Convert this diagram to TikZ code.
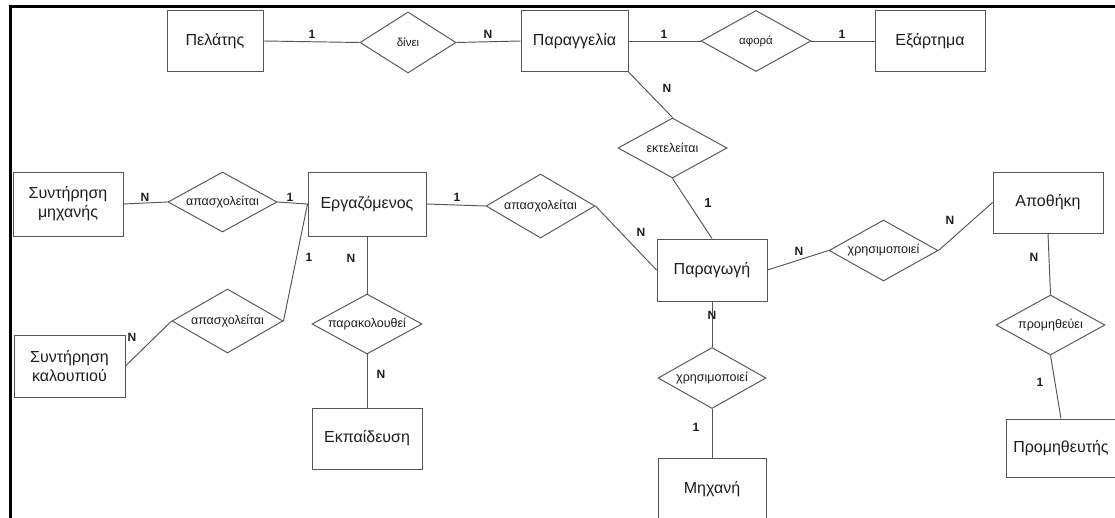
\documentclass[tikz,border=0pt]{standalone}
\usepackage{fontspec}
\setmainfont{Liberation Sans}
\usetikzlibrary{shapes.geometric}
\definecolor{edge}{HTML}{555555}
\definecolor{ink}{HTML}{1E1E1E}
\tikzset{
  entity/.style={draw=edge, line width=0.95pt, rectangle, inner sep=0pt, text=ink,
    font=\fontsize{16}{19}\selectfont, align=center},
  relation/.style={draw=edge, line width=0.95pt, diamond, shape aspect=1.8, inner sep=0pt,
    text=ink, font=\fontsize{12.5}{14}\selectfont},
  link/.style={draw=edge, line width=0.95pt},
  card/.style={font=\bfseries\fontsize{12}{14}\selectfont, text=ink, inner sep=0pt},
  frame/.style={line width=3pt, black, line join=miter},
}
\begin{document}
\begin{tikzpicture}[x=1pt,y=-1pt]
\clip (0,0) rectangle (1115,518);
\fill[white] (0,0) rectangle (1115,518);

% outer frame (top and left sides)
\coordinate (fa) at (10,520);
\coordinate (fb) at (10,6.5);
\coordinate (fc) at (1117,6.5);
\draw[frame] (fa) -- (fb) -- (fc);

% entities
\node[entity, minimum width=96pt,  minimum height=61pt] (pel)    at (215,41)     {Πελάτης};
\node[entity, minimum width=107pt, minimum height=61pt] (parag)  at (574.5,41)   {Παραγγελία};
\node[entity, minimum width=110pt, minimum height=61pt] (exart)  at (930,41)     {Εξάρτημα};
\node[entity, minimum width=110pt, minimum height=64pt] (synmix) at (68,204)     {Συντήρηση\\μηχανής};
\node[entity, minimum width=118pt, minimum height=64pt] (ergaz)  at (367,204)    {Εργαζόμενος};
\node[entity, minimum width=111pt, minimum height=62pt] (synkal) at (69.5,366)   {Συντήρηση\\καλουπιού};
\node[entity, minimum width=110pt, minimum height=61pt] (ekp)    at (367,438.5)  {Εκπαίδευση};
\node[entity, minimum width=110pt, minimum height=62pt] (prod)   at (712,270)    {Παραγωγή};
\node[entity, minimum width=110pt, minimum height=61pt] (apoth)  at (1048,202.5) {Αποθήκη};
\node[entity, minimum width=108pt, minimum height=62pt] (mixani) at (712,489)    {Μηχανή};
\node[entity, minimum width=110pt, minimum height=58pt] (prom)   at (1061,448)   {Προμηθευτής};

% relationships
\node[relation, minimum width=96pt,  minimum height=61pt, font=\fontsize{11.5}{13}\selectfont] (dinei) at (408,42.5) {δίνει};
\node[relation, minimum width=110pt, minimum height=61pt, font=\fontsize{11.5}{13}\selectfont] (afora) at (756,41) {αφορά};
\node[relation, minimum width=109pt, minimum height=60pt] (ektel)  at (672.5,148)   {εκτελείται};
\node[relation, minimum width=109pt, minimum height=60pt] (apas1)  at (222.5,202)   {απασχολείται};
\node[relation, minimum width=111pt, minimum height=64pt] (apas2)  at (227.5,321)   {απασχολείται};
\node[relation, minimum width=110pt, minimum height=60pt] (parak)  at (367,324)     {παρακολουθεί};
\node[relation, minimum width=109pt, minimum height=64pt] (apas3)  at (540.5,206)   {απασχολείται};
\node[relation, minimum width=109pt, minimum height=61pt] (xris1)  at (883.5,250.5) {χρησιμοποιεί};
\node[relation, minimum width=108pt, minimum height=61pt] (xris2)  at (712,378)     {χρησιμοποιεί};
\node[relation, minimum width=109pt, minimum height=60pt] (promr)  at (1050.5,325)  {προμηθεύει};

% connectors
\draw[link] (pel.east) -- (dinei.west);
\draw[link] (dinei.east) -- (parag.west);
\draw[link] (parag.east) -- (afora.west);
\draw[link] (afora.east) -- (exart.west);
\draw[link] (parag.south east) -- (ektel.north);
\draw[link] (ektel.south) -- (prod.north);
\draw[link] (synmix.east) -- (apas1.west);
\draw[link] (apas1.east) -- (ergaz.west);
\draw[link] (synkal.east) -- (apas2.west);
\draw[link] (apas2.east) -- (ergaz.west);
\draw[link] (ergaz.south) -- (parak.north);
\draw[link] (parak.south) -- (ekp.north);
\draw[link] (ergaz.east) -- (apas3.west);
\draw[link] (apas3.east) -- (prod.west);
\draw[link] (prod.east) -- (xris1.west);
\draw[link] (xris1.east) -- (apoth.west);
\draw[link] (apoth.south) -- (promr.north);
\draw[link] (promr.south) -- (prom.north);
\draw[link] (prod.south) -- (xris2.north);
\draw[link] (xris2.south) -- (mixani.north);

% cardinalities
\node[card] (c1)  at (312,34)  {1};
\node[card] (c2)  at (488,34)  {N};
\node[card] (c3)  at (664,34)  {1};
\node[card] (c4)  at (842,34)  {1};
\node[card] (c5)  at (667,88)  {N};
\node[card, font=\bfseries\fontsize{13}{15}\selectfont] (c6) at (708,203) {1};
\node[card] (c7)  at (145,197) {N};
\node[card] (c8)  at (290,197) {1};
\node[card] (c9)  at (309,257) {1};
\node[card] (c10) at (351,258) {N};
\node[card] (c11) at (132,337) {N};
\node[card] (c12) at (381,374) {N};
\node[card] (c13) at (457,197) {1};
\node[card] (c14) at (641,232) {N};
\node[card] (c15) at (712,315) {N};
\node[card] (c16) at (799,251) {N};
\node[card] (c17) at (950,220) {N};
\node[card] (c18) at (1034,257) {N};
\node[card] (c19) at (696,427) {1};
\node[card] (c20) at (1040,382) {1};
\end{tikzpicture}
\end{document}
